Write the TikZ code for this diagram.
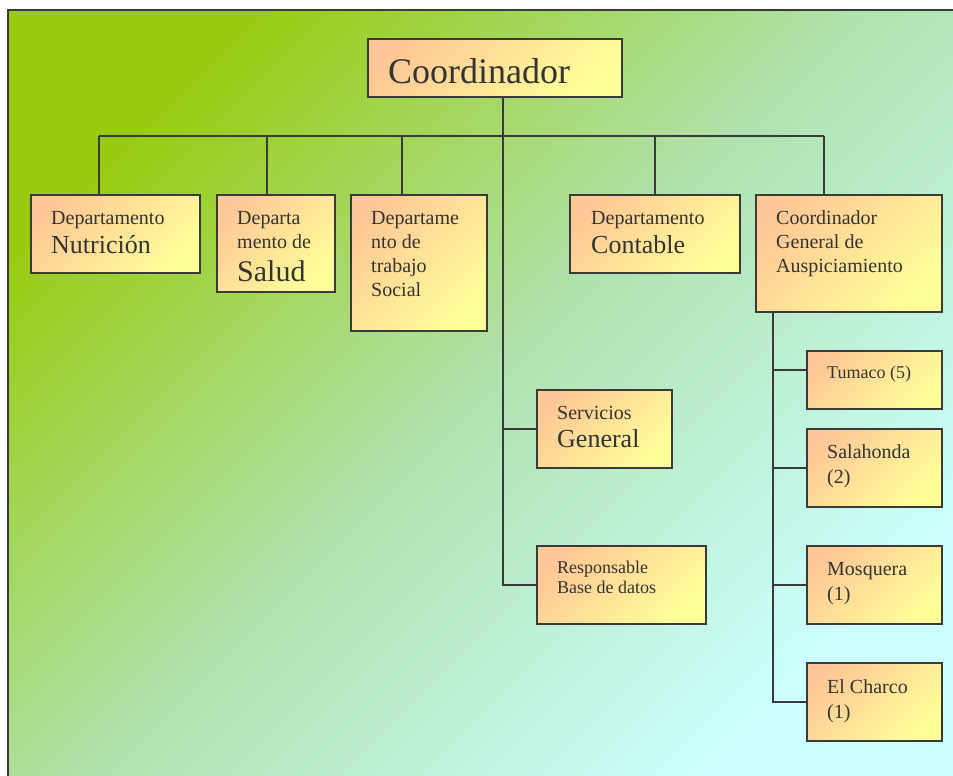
\documentclass[tikz,border=0pt]{standalone}
\usepackage{fontspec}
\setmainfont{Liberation Serif}
\usetikzlibrary{calc}
\definecolor{bgA}{HTML}{99CC11}
\definecolor{bgM}{HTML}{B0E2AE}
\definecolor{bgB}{HTML}{CCFFFF}
\definecolor{boxA}{HTML}{FFC896}
\definecolor{boxB}{HTML}{FFFF99}
\definecolor{ink}{HTML}{3A3A3A}
\definecolor{txtc}{HTML}{333333}
\newcommand{\stk}[1]{\begin{tabular}[t]{@{}l@{}}#1\end{tabular}}
\begin{document}
\begin{tikzpicture}[x=1pt,y=-1pt,
  box/.style={draw=ink, line width=1.8pt, top color=boxA, bottom color=boxB,
    shading angle=45, inner sep=0pt, outer sep=0pt, anchor=north west},
  txt/.style={text=txtc, inner sep=0pt, anchor=base west},
  conn/.style={draw=ink, line width=1.4pt},
  f20/.style={font=\fontsize{20}{24}\selectfont},
  f20b/.style={font=\fontsize{20}{25.5}\selectfont},
  f18/.style={font=\fontsize{18}{20}\selectfont}]
\useasboundingbox (0,0) rectangle (953,776);
% background
\shade[top color=bgA, bottom color=bgB, middle color=bgM, shading angle=45]
  (8,10) rectangle (953,776);
\draw[ink, line width=2pt] (8,776) -- (8,10) -- (953,10);

% boxes
\node[box, minimum width=254pt, minimum height=58pt] (coord) at (368,39) {};
\node[box, minimum width=169pt, minimum height=78pt] (nut) at (31,195) {};
\node[box, minimum width=118pt, minimum height=97pt] (sal) at (217,195) {};
\node[box, minimum width=136pt, minimum height=136pt] (tra) at (351,195) {};
\node[box, minimum width=170pt, minimum height=78pt] (con) at (570,195) {};
\node[box, minimum width=186pt, minimum height=117pt] (aus) at (756,195) {};
\node[box, minimum width=135pt, minimum height=78pt] (serv) at (537,390) {};
\node[box, minimum width=169pt, minimum height=78pt] (resp) at (537,546) {};
\node[box, minimum width=135pt, minimum height=58pt] (tum) at (807,351) {};
\node[box, minimum width=135pt, minimum height=78pt] (sala) at (807,429) {};
\node[box, minimum width=135pt, minimum height=78pt] (mos) at (807,546) {};
\node[box, minimum width=135pt, minimum height=78pt] (elc) at (807,663) {};

% texts
\node[txt, font=\fontsize{36}{40}\selectfont] (tCoord) at (388,83) {Coordinador};
\node[txt, f20] (tNut) at (51,224) {\stk{Departamento\\[4pt]{\fontsize{26}{30}\selectfont Nutrición}}};
\node[txt, f20] (tSal) at (237,224) {\stk{Departa\\mento de\\[5pt]{\fontsize{30}{34}\selectfont Salud}}};
\node[txt, f20] (tTra) at (371,224) {\stk{Departame\\nto de\\trabajo\\Social}};
\node[txt, f20] (tCon) at (591,224) {\stk{Departamento\\[4pt]{\fontsize{26}{30}\selectfont Contable}}};
\node[txt, f20] (tAus) at (776,224) {\stk{Coordinador\\General de\\Auspiciamiento}};
\node[txt, f20] (tServ) at (557,419) {\stk{Servicios\\[3pt]{\fontsize{26}{30}\selectfont General}}};
\node[txt, f18] (tResp) at (557,573) {\stk{Responsable\\Base de datos}};
\node[txt, f18] (tTum) at (827,378) {Tumaco (5)};
\node[txt, f20b] (tSala) at (827,458) {\stk{Salahonda\\(2)}};
\node[txt, f20b] (tMos) at (827,575) {\stk{Mosquera\\(1)}};
\node[txt, f20b] (tElc) at (827,693) {\stk{El Charco\\(1)}};

% connectors
\coordinate (busL) at (99,136);
\coordinate (busR) at (824,136);
\coordinate (dSal) at (267,136);
\coordinate (dTra) at (402,136);
\coordinate (dCon) at (655,136);
\coordinate (spine) at (503,136);
\coordinate (aSp) at (773,312);
\draw[conn] (busL) -- (busR);
\draw[conn] (busL) -- (busL |- nut.north);
\draw[conn] (dSal) -- (dSal |- sal.north);
\draw[conn] (dTra) -- (dTra |- tra.north);
\draw[conn] (dCon) -- (dCon |- con.north);
\draw[conn] (busR) -- (busR |- aus.north);
\draw[conn] (spine |- coord.south) |- (resp.west);
\draw[conn] (serv.west -| spine) -- (serv.west);
\draw[conn] (aus.south -| aSp) |- (elc.west);
\draw[conn] ([yshift=10pt]tum.west -| aSp) -- ([yshift=10pt]tum.west);
\draw[conn] (sala.west -| aSp) -- (sala.west);
\draw[conn] (mos.west -| aSp) -- (mos.west);
\end{tikzpicture}
\end{document}
